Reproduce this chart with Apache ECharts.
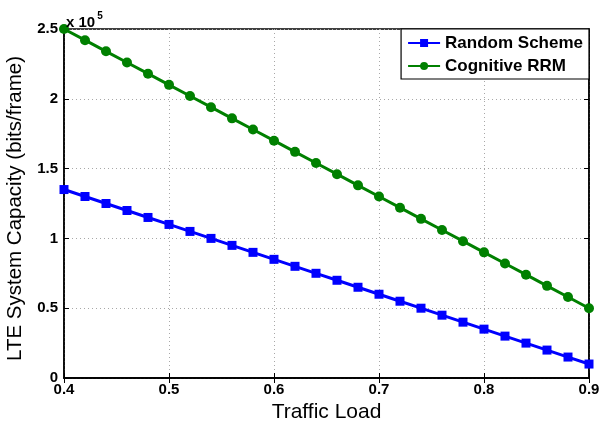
<!DOCTYPE html>
<html>
<head>
<meta charset="utf-8">
<script src="https://cdn.jsdelivr.net/npm/echarts@6/dist/echarts.min.js"></script>
<style>html,body{margin:0;padding:0;background:#fff}#c{width:602px;height:426px}</style>
</head>
<body>
<div id="c"></div>
<script>
const trafficLoad = [0.40,0.42,0.44,0.46,0.48,0.50,0.52,0.54,0.56,0.58,0.60,0.62,0.64,0.66,0.68,0.70,0.72,0.74,0.76,0.78,0.80,0.82,0.84,0.86,0.88,0.90];
const randomScheme = [135000,130000,125000,120000,115000,110000,105000,100000,95000,90000,85000,80000,75000,70000,65000,60000,55000,50000,45000,40000,35000,30000,25000,20000,15000,10000];
const cognitiveRRM = [250000,242000,234000,226000,218000,210000,202000,194000,186000,178000,170000,162000,154000,146000,138000,130000,122000,114000,106000,98000,90000,82000,74000,66000,58000,50000];
const seriesNames = ['Random Scheme','Cognitive RRM'];
const xTicks = [0.4,0.5,0.6,0.7,0.8,0.9];
const yTicks = [0,50000,100000,150000,200000,250000];

const font = 'Liberation Sans, Arial, Helvetica, sans-serif';
const chart = echarts.init(document.getElementById('c'));
const pair = (xs, ys) => xs.map((x, i) => [x, ys[i]]);
const gridLine = {show: true, lineStyle: {color: '#a8a8a8', type: [1, 3], width: 1}};
chart.setOption({
  animation: false,
  backgroundColor: '#fff',
  grid: {left: 64, right: 13, top: 29, bottom: 48, outerBoundsMode: 'none', containLabel: false,
    show: true, borderColor: '#000', borderWidth: 1.5, backgroundColor: 'transparent'},
  title: {
    text: '{a|x 10}{b|5}', left: 61, top: 6,
    textStyle: {rich: {
      a: {fontFamily: font, fontWeight: 'bold', fontSize: 15, color: '#000', verticalAlign: 'bottom'},
      b: {fontFamily: font, fontWeight: 'bold', fontSize: 10, color: '#000', verticalAlign: 'top', padding: [0,0,9,2]}
    }}
  },
  legend: {
    orient: 'vertical', right: 13, top: 29,
    padding: [4, 6, 3, 6], itemGap: 3, itemWidth: 32, itemHeight: 10,
    backgroundColor: '#fff', borderColor: '#000', borderWidth: 1.2,
    textStyle: {fontFamily: font, fontWeight: 'bold', fontSize: 17, color: '#000', lineHeight: 20},
    data: seriesNames
  },
  xAxis: [{
    type: 'value', min: 0.4, max: 0.9, interval: 0.1,
    name: 'Traffic Load', nameLocation: 'middle', nameGap: 21,
    nameTextStyle: {fontFamily: font, fontSize: 21, color: '#000'},
    axisLine: {show: true, lineStyle: {color: '#000', width: 1.5}},
    axisTick: {show: true, inside: true, length: 5, lineStyle: {color: '#000'}},
    axisLabel: {fontFamily: font, fontWeight: 'bold', fontSize: 15, color: '#000', margin: 4,
      formatter: v => (Math.round(v * 10) / 10).toString()},
    splitLine: gridLine
  }, {
    type: 'value', position: 'top', min: 0.4, max: 0.9, interval: 0.1,
    axisLine: {show: true, lineStyle: {color: '#000', width: 1.5}},
    axisTick: {show: true, inside: true, length: 5, lineStyle: {color: '#000'}},
    axisLabel: {show: false}, splitLine: {show: false}
  }],
  yAxis: [{
    type: 'value', min: 0, max: 250000, interval: 50000,
    name: 'LTE System Capacity (bits/frame)', nameLocation: 'middle', nameGap: 31,
    nameTextStyle: {fontFamily: font, fontSize: 20.5, color: '#000', padding: [0, 10, 0, 0]},
    axisLine: {show: true, lineStyle: {color: '#000', width: 1.5}},
    axisTick: {show: true, inside: true, length: 5, lineStyle: {color: '#000'}},
    axisLabel: {fontFamily: font, fontWeight: 'bold', fontSize: 15, color: '#000', margin: 6,
      formatter: v => (v / 100000).toString()},
    splitLine: gridLine
  }, {
    type: 'value', position: 'right', min: 0, max: 250000, interval: 50000,
    axisLine: {show: true, lineStyle: {color: '#000', width: 1.5}},
    axisTick: {show: true, inside: true, length: 5, lineStyle: {color: '#000'}},
    axisLabel: {show: false}, splitLine: {show: false}
  }],
  series: [{
    name: seriesNames[0], type: 'line', data: pair(trafficLoad, randomScheme),
    symbol: 'rect', symbolSize: 9, color: '#0000ff',
    lineStyle: {width: 3, color: '#0000ff'}, itemStyle: {color: '#0000ff'}, z: 3
  }, {
    name: seriesNames[1], type: 'line', data: pair(trafficLoad, cognitiveRRM),
    symbol: 'circle', symbolSize: 10, color: '#008000',
    lineStyle: {width: 3, color: '#008000'}, itemStyle: {color: '#008000'}, z: 3
  }]
});
</script>
</body>
</html>
